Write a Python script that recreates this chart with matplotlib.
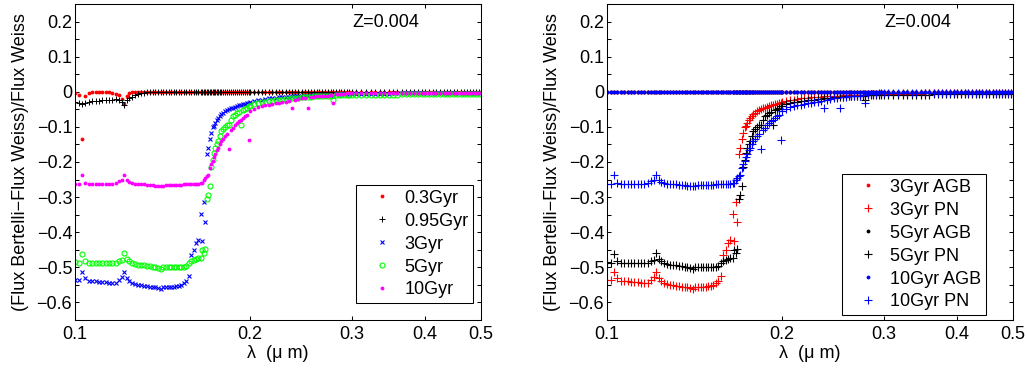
import matplotlib
matplotlib.use('Agg')
import matplotlib.pyplot as plt
import numpy as np
from matplotlib.ticker import FixedLocator, NullLocator, MultipleLocator

plt.rcParams['font.family'] = ['Liberation Sans', 'DejaVu Sans']
plt.rcParams['font.size'] = 13

# wavelength grid (micron)
wave = [
    # far UV plateau
    0.1000, 0.1015, 0.1027, 0.1040, 0.1055, 0.1070, 0.1085, 0.1100, 0.1115, 0.1130,
    0.1145, 0.1160, 0.1175, 0.1190, 0.1203, 0.1216, 0.1228, 0.1240, 0.1255, 0.1270,
    0.1285, 0.1300, 0.1315, 0.1330, 0.1345, 0.1360, 0.1375, 0.1390, 0.1405, 0.1420,
    0.1435, 0.1450, 0.1465, 0.1480, 0.1495, 0.1510, 0.1525, 0.1540, 0.1555, 0.1570,
    0.1585, 0.1600, 0.1615, 0.1630, 0.1645,
    # jump
    0.1655, 0.1665, 0.1675, 0.1685, 0.1695, 0.1705, 0.1715, 0.1725, 0.1735, 0.1745,
    0.1755, 0.1765, 0.1775, 0.1785, 0.1795, 0.1810, 0.1825, 0.1840, 0.1855, 0.1870,
    0.1885, 0.1900, 0.1915, 0.1930, 0.1945, 0.1960, 0.1975, 0.1990,
    # near UV
    0.2005, 0.2035, 0.2065, 0.2095, 0.2125, 0.2155, 0.2185, 0.2215, 0.2245, 0.2275,
    0.2305, 0.2335, 0.2365, 0.2395, 0.2425, 0.2455, 0.2485, 0.2515, 0.2545, 0.2575,
    0.2605, 0.2635, 0.2665, 0.2695, 0.2725, 0.2755, 0.2785, 0.2815, 0.2845, 0.2875,
    0.2905, 0.2935, 0.2965, 0.2995,
    # optical tail
    0.305, 0.311, 0.317, 0.323, 0.329, 0.335, 0.341, 0.347, 0.353, 0.359,
    0.365, 0.371, 0.377, 0.383, 0.389, 0.395, 0.401, 0.407, 0.413, 0.419,
    0.425, 0.431, 0.437, 0.443, 0.449, 0.455, 0.461, 0.467, 0.473, 0.479,
    0.485, 0.491, 0.497,
]

diff_03gyr = [
    -0.004, -0.010, -0.134, -0.012, -0.003, -0.002, -0.002, -0.002, -0.002, -0.002,
    -0.002, -0.003, -0.005, -0.010, -0.020, -0.036, -0.012, -0.004, -0.001, -0.001,
    0.0, 0.0, 0.0, 0.0, 0.0, 0.0, 0.0, 0.0, 0.0, 0.0,
    0.0, 0.0, 0.0, 0.0, 0.0, 0.0, 0.0, 0.0, 0.0, 0.0,
    0.0, 0.0, 0.0, 0.0, 0.0,
    0.0, 0.0, 0.0, 0.0, 0.0, 0.0, 0.0, 0.0, 0.0, 0.0,
    0.0, 0.0, 0.0, 0.0, 0.0, 0.0, 0.0, 0.0, 0.0, 0.0,
    0.0, 0.0, 0.0, 0.0, 0.0, 0.0, 0.0, 0.0,
    0.0, 0.0, 0.0, 0.0, 0.0, 0.0, 0.0, 0.0, 0.0, 0.0,
    0.0, 0.0, 0.0, 0.0, 0.0, 0.0, 0.0, 0.0, 0.0, 0.0,
    0.0, 0.0, 0.0, 0.0, 0.0, 0.0, 0.0, 0.0, 0.0, 0.0,
    0.0, 0.0, 0.0, 0.0,
    0.0, 0.0, 0.0, 0.0, 0.0, 0.0, 0.0, 0.0, 0.0, 0.0,
    0.0, 0.0, 0.0, 0.0, 0.0, 0.0, 0.0, 0.0, 0.0, 0.0,
    0.0, 0.0, 0.0, 0.0, 0.0, 0.0, 0.0, 0.0, 0.0, 0.0,
    0.0, 0.0, 0.0,
]

diff_095gyr = [
    -0.030, -0.032, -0.036, -0.031, -0.029, -0.027, -0.026, -0.025, -0.024, -0.023,
    -0.022, -0.022, -0.021, -0.024, -0.028, -0.037, -0.022, -0.018, -0.014, -0.010,
    -0.006, -0.004, -0.003, -0.002, -0.001, 0.0, 0.0, 0.0, 0.0, 0.0,
    0.0, 0.0, 0.0, 0.0, 0.0, 0.0, 0.0, 0.0, 0.0, 0.0,
    0.0, 0.0, 0.0, 0.0, 0.0,
    0.0, 0.0, 0.0, 0.0, 0.0, 0.0, 0.0, 0.0, 0.0, 0.0,
    0.0, 0.0, 0.0, 0.0, 0.0, 0.0, 0.0, 0.0, 0.0, 0.0,
    0.0, 0.0, 0.0, 0.0, 0.0, 0.0, 0.0, 0.0,
    0.0, 0.0, 0.0, 0.0, 0.0, 0.0, 0.0, 0.0, 0.0, 0.0,
    0.0, 0.0, 0.0, 0.0, 0.0, 0.0, 0.0, 0.0, 0.0, 0.0,
    0.0, 0.0, 0.0, 0.0, 0.0, 0.0, 0.0, 0.0, 0.0, 0.0,
    0.0, 0.0, 0.0, 0.0,
    0.0, 0.0, 0.0, 0.0, 0.0, 0.0, 0.0, 0.0, 0.0, 0.0,
    0.0, 0.0, 0.0, 0.0, 0.0, 0.0, 0.0, 0.0, 0.0, 0.0,
    0.0, 0.0, 0.0, 0.0, 0.0, 0.0, 0.0, 0.0, 0.0, 0.0,
    0.0, 0.0, 0.0,
]

diff_3gyr = [
    -0.537, -0.535, -0.513, -0.530, -0.538, -0.540, -0.540, -0.541, -0.542, -0.543,
    -0.544, -0.545, -0.546, -0.535, -0.528, -0.512, -0.530, -0.538, -0.545, -0.548,
    -0.550, -0.551, -0.552, -0.553, -0.555, -0.556, -0.557, -0.559, -0.562, -0.557,
    -0.556, -0.556, -0.555, -0.555, -0.554, -0.552, -0.549, -0.545, -0.540, -0.526,
    -0.464, -0.452, -0.431, -0.422, -0.348,
    -0.424, -0.315, -0.372, -0.177, -0.161, -0.135, -0.118, -0.100, -0.098, -0.089,
    -0.080, -0.075, -0.068, -0.062, -0.061, -0.055, -0.052, -0.050, -0.047, -0.045,
    -0.042, -0.040, -0.038, -0.037, -0.036, -0.035, -0.033, -0.032,
    -0.030, -0.027, -0.024, -0.022, -0.020, -0.019, -0.018, -0.017, -0.016, -0.015,
    -0.015, -0.014, -0.013, -0.013, -0.012, -0.012, -0.011, -0.011, -0.010, -0.010,
    -0.010, -0.009, -0.009, -0.009, -0.008, -0.008, -0.012, -0.007, -0.006, -0.006,
    -0.006, -0.005, -0.005, -0.005,
    -0.005, -0.005, -0.005, -0.005, -0.005, -0.005, -0.005, -0.005, -0.004, -0.004,
    -0.004, -0.004, -0.004, -0.004, -0.004, -0.004, -0.004, -0.004, -0.004, -0.004,
    -0.004, -0.004, -0.004, -0.004, -0.004, -0.004, -0.004, -0.004, -0.004, -0.004,
    -0.004, -0.004, -0.004,
]

diff_5gyr = [
    -0.486, -0.487, -0.462, -0.483, -0.487, -0.488, -0.488, -0.488, -0.488, -0.488,
    -0.489, -0.489, -0.488, -0.482, -0.478, -0.460, -0.476, -0.482, -0.488, -0.490,
    -0.492, -0.493, -0.494, -0.496, -0.497, -0.498, -0.500, -0.502, -0.505, -0.500,
    -0.499, -0.499, -0.500, -0.500, -0.500, -0.500, -0.499, -0.498, -0.495, -0.488,
    -0.483, -0.479, -0.476, -0.474, -0.472,
    -0.452, -0.458, -0.447, -0.306, -0.293, -0.267, -0.215, -0.194, -0.173, -0.160,
    -0.150, -0.141, -0.125, -0.113, -0.105, -0.100, -0.096, -0.094, -0.080, -0.070,
    -0.066, -0.060, -0.057, -0.094, -0.052, -0.048, -0.045, -0.041,
    -0.040, -0.036, -0.033, -0.030, -0.028, -0.026, -0.025, -0.024, -0.023, -0.022,
    -0.021, -0.020, -0.019, -0.018, -0.017, -0.016, -0.015, -0.014, -0.014, -0.013,
    -0.013, -0.012, -0.012, -0.011, -0.011, -0.011, -0.022, -0.009, -0.009, -0.008,
    -0.008, -0.008, -0.008, -0.008,
    -0.008, -0.008, -0.008, -0.008, -0.008, -0.008, -0.008, -0.008, -0.008, -0.008,
    -0.007, -0.007, -0.007, -0.007, -0.007, -0.007, -0.007, -0.007, -0.007, -0.007,
    -0.007, -0.007, -0.007, -0.007, -0.007, -0.007, -0.007, -0.007, -0.007, -0.007,
    -0.007, -0.007, -0.007,
]

diff_10gyr = [
    -0.262, -0.262, -0.238, -0.260, -0.262, -0.263, -0.263, -0.263, -0.263, -0.263,
    -0.262, -0.262, -0.260, -0.255, -0.250, -0.236, -0.250, -0.256, -0.260, -0.262,
    -0.263, -0.264, -0.264, -0.265, -0.265, -0.266, -0.267, -0.268, -0.269, -0.267,
    -0.266, -0.266, -0.266, -0.266, -0.265, -0.265, -0.265, -0.264, -0.264, -0.264,
    -0.263, -0.263, -0.262, -0.262, -0.261,
    -0.260, -0.252, -0.245, -0.240, -0.236, -0.218, -0.205, -0.196, -0.185, -0.178,
    -0.167, -0.160, -0.150, -0.141, -0.135, -0.127, -0.120, -0.163, -0.108, -0.102,
    -0.095, -0.088, -0.083, -0.080, -0.075, -0.070, -0.065, -0.137,
    -0.055, -0.048, -0.044, -0.041, -0.039, -0.037, -0.035, -0.033, -0.031, -0.030,
    -0.028, -0.026, -0.046, -0.023, -0.021, -0.019, -0.017, -0.046, -0.015, -0.014,
    -0.013, -0.012, -0.012, -0.011, -0.011, -0.010, -0.032, -0.007, -0.006, -0.005,
    -0.005, -0.004, -0.004, -0.004,
    -0.003, -0.003, -0.003, -0.003, -0.003, -0.003, -0.003, -0.003, -0.003, -0.003,
    -0.003, -0.003, -0.003, -0.003, -0.003, -0.003, -0.003, -0.003, -0.003, -0.003,
    -0.003, -0.003, -0.003, -0.003, -0.003, -0.003, -0.003, -0.003, -0.003, -0.003,
    -0.003, -0.003, -0.003,
]

# AGB runs sit on zero everywhere
diff_agb = [
    0.0, 0.0, 0.0, 0.0, 0.0, 0.0, 0.0, 0.0, 0.0, 0.0,
    0.0, 0.0, 0.0, 0.0, 0.0, 0.0, 0.0, 0.0, 0.0, 0.0,
    0.0, 0.0, 0.0, 0.0, 0.0, 0.0, 0.0, 0.0, 0.0, 0.0,
    0.0, 0.0, 0.0, 0.0, 0.0, 0.0, 0.0, 0.0, 0.0, 0.0,
    0.0, 0.0, 0.0, 0.0, 0.0, 0.0, 0.0, 0.0, 0.0, 0.0,
    0.0, 0.0, 0.0, 0.0, 0.0, 0.0, 0.0, 0.0, 0.0, 0.0,
    0.0, 0.0, 0.0, 0.0, 0.0, 0.0, 0.0, 0.0, 0.0, 0.0,
    0.0, 0.0, 0.0, 0.0, 0.0, 0.0, 0.0, 0.0, 0.0, 0.0,
    0.0, 0.0, 0.0, 0.0, 0.0, 0.0, 0.0, 0.0, 0.0, 0.0,
    0.0, 0.0, 0.0, 0.0, 0.0, 0.0, 0.0, 0.0, 0.0, 0.0,
    0.0, 0.0, 0.0, 0.0, 0.0, 0.0, 0.0, 0.0, 0.0, 0.0,
    0.0, 0.0, 0.0, 0.0, 0.0, 0.0, 0.0, 0.0, 0.0, 0.0,
    0.0, 0.0, 0.0, 0.0, 0.0, 0.0, 0.0, 0.0, 0.0, 0.0,
    0.0, 0.0, 0.0, 0.0, 0.0, 0.0, 0.0, 0.0, 0.0, 0.0,
]

xticks = [0.1, 0.2, 0.3, 0.4, 0.5]
xtick_labels = ['0.1', '0.2', '0.3', '0.4', '0.5']
yticks = [-0.6, -0.5, -0.4, -0.3, -0.2, -0.1, 0.0, 0.1, 0.2]
ytick_labels = ['\u22120.6', '\u22120.5', '\u22120.4', '\u22120.3', '\u22120.2',
                '\u22120.1', '0', '0.1', '0.2']


def style_axes(ax):
    ax.set_xscale('log')
    ax.set_xlim(0.1, 0.5)
    ax.set_ylim(-0.65, 0.25)
    ax.set_xticks(xticks, labels=xtick_labels)
    ax.xaxis.set_minor_locator(NullLocator())
    ax.yaxis.set_major_locator(FixedLocator(yticks))
    ax.set_yticklabels(ytick_labels)
    ax.yaxis.set_minor_locator(MultipleLocator(0.05))
    ax.tick_params(which='both', direction='in', top=True, right=True,
                   length=3, width=0.75)
    ax.tick_params(axis='x', pad=4)
    ax.tick_params(axis='y', pad=2)
    for sp in ax.spines.values():
        sp.set_linewidth(0.75)
    ax.set_xlabel('\u03bb  (\u03bc m)')
    ax.set_ylabel('(Flux Bertelli\u2212Flux Weiss)/Flux Weiss')
    ax.xaxis.set_label_coords(0.5, -0.08)
    ax.yaxis.set_label_coords(-0.113, 0.5)
    ax.text(0.682, 0.943, 'Z=0.004', transform=ax.transAxes, ha='left', va='center')


def add_legend(ax, anchor):
    leg = ax.legend(loc='lower right', bbox_to_anchor=anchor, borderaxespad=0,
                    fancybox=False, framealpha=1, edgecolor='black',
                    borderpad=0.25, handlelength=2.4, handletextpad=0.05,
                    labelspacing=0.33, numpoints=1)
    leg.get_frame().set_linewidth(0.75)


fig = plt.figure(figsize=(10.27, 3.70), dpi=100)
ax1 = fig.add_axes([75 / 1027, 50 / 370, 406 / 1027, 316 / 370])
ax2 = fig.add_axes([607 / 1027, 50 / 370, 406 / 1027, 316 / 370])

# left panel: ages
ax1.plot(wave, diff_03gyr, ls='none', marker='.', ms=5.5, mew=0, color='red', label='0.3Gyr')
ax1.plot(wave, diff_095gyr, ls='none', marker='+', ms=4, mew=0.7, color='black', label='0.95Gyr')
ax1.plot(wave, diff_3gyr, ls='none', marker='x', ms=3.2, mew=0.8, color='blue', label='3Gyr')
ax1.plot(wave, diff_5gyr, ls='none', marker='o', ms=3.6, mew=0.8, mfc='none',
         color=(0, 1, 0), label='5Gyr')
ax1.plot(wave, diff_10gyr, ls='none', marker='.', ms=5.5, mew=0, color='magenta', label='10Gyr')
style_axes(ax1)
add_legend(ax1, (1 - 8 / 406, 17 / 316))

# right panel: AGB vs PN
right_series = [
    (diff_agb, 'red', '3Gyr AGB', '.'),
    (diff_3gyr, 'red', '3Gyr PN', '+'),
    (diff_agb, 'black', '5Gyr AGB', '.'),
    (diff_5gyr, 'black', '5Gyr PN', '+'),
    (diff_agb, 'blue', '10Gyr AGB', '.'),
    (diff_10gyr, 'blue', '10Gyr PN', '+'),
]
for vals, col, lab, mk in right_series:
    if mk == '.':
        ax2.plot(wave, vals, ls='none', marker='.', ms=5.5, mew=0, color=col, label=lab)
    else:
        ax2.plot(wave, vals, ls='none', marker='+', ms=5.5, mew=0.8, color=col, label=lab)
style_axes(ax2)
add_legend(ax2, (1 - 27 / 406, 5 / 316))

fig.savefig('out.png', dpi=100)
